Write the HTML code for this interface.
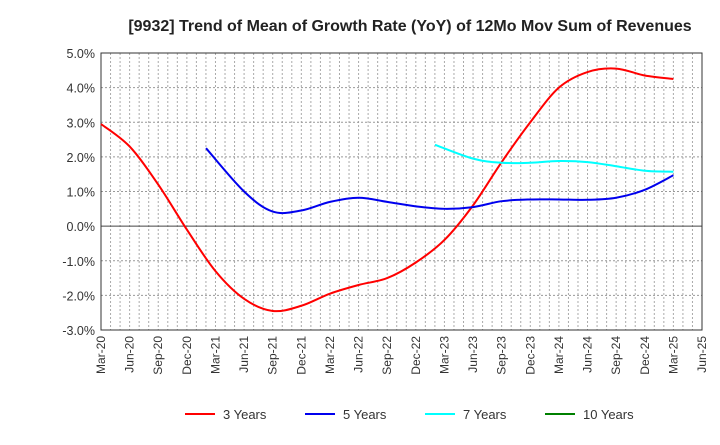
<!DOCTYPE html>
<html><head><meta charset="utf-8"><style>
body{margin:0;background:#fff;font-family:"Liberation Sans",sans-serif}
</style></head><body>
<svg id="c" width="720" height="440" xmlns="http://www.w3.org/2000/svg">
<text x="410" y="31" text-anchor="middle" font-size="16" font-weight="bold" fill="#222">[9932]  Trend of Mean of Growth Rate (YoY) of 12Mo Mov Sum of Revenues</text>
<g id="grid"></g><g id="axes"></g><g id="series"></g><g id="legend"></g>
</svg>
<script>
const xLabels=["Mar-20","Jun-20","Sep-20","Dec-20","Mar-21","Jun-21","Sep-21","Dec-21","Mar-22","Jun-22","Sep-22","Dec-22","Mar-23","Jun-23","Sep-23","Dec-23","Mar-24","Jun-24","Sep-24","Dec-24","Mar-25","Jun-25"];
const yTicks=[5,4,3,2,1,0,-1,-2,-3];
const s3=[2.95,2.3,1.2,-0.1,-1.3,-2.1,-2.45,-2.3,-1.95,-1.7,-1.5,-1.05,-0.4,0.6,1.85,3.0,4.0,4.45,4.55,4.35,4.25];
const s5=[2.25,1.0,0.42,0.45,0.7,0.82,0.7,0.57,0.5,0.55,0.72,0.77,0.77,0.76,0.82,1.05,1.47];
const s7=[2.35,1.95,1.83,1.83,1.88,1.85,1.73,1.6,1.57];
const s10=[];
const L=101,R=702,T=53,B=330,NS="http://www.w3.org/2000/svg";
const xq=i=>L+(R-L)*i/21, y=v=>T+(5-v)*(B-T)/8;
function mk(p,tag,a){const e=document.createElementNS(NS,tag);for(const k in a)e.setAttribute(k,a[k]);p.appendChild(e);return e;}
const g=document.getElementById('grid'),ax=document.getElementById('axes'),se=document.getElementById('series'),lg=document.getElementById('legend');
for(let m=1;m<63;m++){const x=L+(R-L)*m/63;const l=mk(g,'line',{x1:x,x2:x,y1:T,y2:B,stroke:'#aaa','stroke-dasharray':'2,2','stroke-width':1});}
yTicks.forEach(v=>{const l=mk(g,'line',{x1:L,x2:R,y1:y(v),y2:y(v),stroke:v===0?'#444':'#999','stroke-dasharray':v===0?'':'2,2'});
const t=mk(ax,'text',{x:L-6,y:y(v)+5,'text-anchor':'end','font-size':12.5,fill:'#333'});t.textContent=v.toFixed(1)+'%';});
const fr=mk(ax,'rect',{x:L,y:T,width:R-L,height:B-T,fill:'none',stroke:'#333'});
xLabels.forEach((s,i)=>{const x=xq(i)+4;const t=mk(ax,'text',{x:x,y:B+6,'text-anchor':'end','font-size':12,fill:'#333',transform:`rotate(-90 ${x} ${B+6})`});t.textContent=s;});
function path(vals,off,startShift){const p=vals.map((v,i)=>[xq(i+off-(i===0?startShift:0)),y(v)]);if(!p.length)return '';let d=`M${p[0][0]},${p[0][1]}`;
for(let i=0;i<p.length-1;i++){const a=p[i-1]||p[i],b=p[i],c=p[i+1],e=p[i+2]||c;d+=`C${b[0]+(c[0]-a[0])/6},${b[1]+(c[1]-a[1])/6} ${c[0]-(e[0]-b[0])/6},${c[1]-(e[1]-b[1])/6} ${c[0]},${c[1]}`;}return d;}
[[s3,0,0,'#ff0000','series-3-years'],[s5,4,0.33,'#0000ee','series-5-years'],[s7,12,0.33,'#00ffff','series-7-years'],[s10,0,0,'#008000','series-10-years']].forEach(([v,o,sh,c,n])=>{if(!v.length)return;const p=mk(se,'path',{d:path(v,o,sh),fill:'none',stroke:c,'stroke-width':2});});
[['3 Years','#ff0000',185],['5 Years','#0000ee',305],['7 Years','#00ffff',425],['10 Years','#008000',545]].forEach(([s,c,x])=>{const gg=mk(lg,'g',{});
mk(gg,'line',{x1:x,x2:x+30,y1:414,y2:414,stroke:c,'stroke-width':2});const t=mk(gg,'text',{x:x+38,y:419,'font-size':13,fill:'#333'});t.textContent=s;});
</script>
</body></html>
